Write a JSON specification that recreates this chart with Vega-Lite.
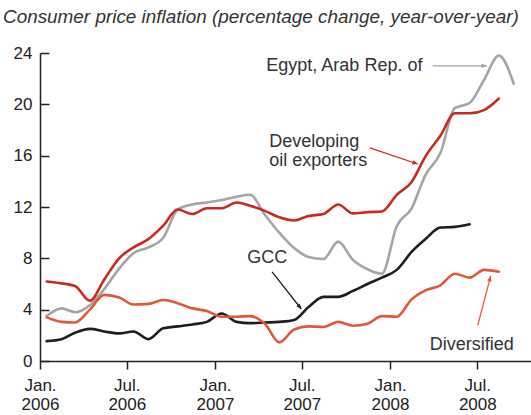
{
  "$schema": "https://vega.github.io/schema/vega-lite/v6.json",
  "width": 491,
  "height": 308,
  "autosize": {"type": "none"},
  "padding": {"left": 40, "top": 53, "right": 0, "bottom": 54},
  "background": "white",
  "config": {"view": {"stroke": null}, "font": "Liberation Sans"},
  "title": {
    "text": "Consumer price inflation (percentage change, year-over-year)",
    "anchor": "start",
    "frame": "group",
    "font": "Liberation Sans",
    "fontStyle": "italic",
    "fontWeight": "normal",
    "fontSize": 18.9,
    "color": "#333333",
    "dx": -37,
    "offset": 2,
    "baseline": "alphabetic"
  },
  "datasets": {
    "series": [
      {"date": "2006-01-15", "series": "Egypt", "value": 3.5},
      {"date": "2006-02-15", "series": "Egypt", "value": 4.1},
      {"date": "2006-03-15", "series": "Egypt", "value": 3.8},
      {"date": "2006-04-15", "series": "Egypt", "value": 4.35},
      {"date": "2006-05-15", "series": "Egypt", "value": 5.6},
      {"date": "2006-06-15", "series": "Egypt", "value": 7.2},
      {"date": "2006-07-15", "series": "Egypt", "value": 8.4},
      {"date": "2006-08-15", "series": "Egypt", "value": 8.85},
      {"date": "2006-09-15", "series": "Egypt", "value": 9.6},
      {"date": "2006-10-15", "series": "Egypt", "value": 11.8},
      {"date": "2006-11-15", "series": "Egypt", "value": 12.2},
      {"date": "2006-12-15", "series": "Egypt", "value": 12.35},
      {"date": "2007-01-15", "series": "Egypt", "value": 12.55},
      {"date": "2007-02-15", "series": "Egypt", "value": 12.8},
      {"date": "2007-03-15", "series": "Egypt", "value": 12.95},
      {"date": "2007-04-15", "series": "Egypt", "value": 11.4},
      {"date": "2007-05-15", "series": "Egypt", "value": 10.0},
      {"date": "2007-06-15", "series": "Egypt", "value": 8.8},
      {"date": "2007-07-15", "series": "Egypt", "value": 8.1},
      {"date": "2007-08-15", "series": "Egypt", "value": 7.95},
      {"date": "2007-09-15", "series": "Egypt", "value": 9.3},
      {"date": "2007-10-15", "series": "Egypt", "value": 7.9},
      {"date": "2007-11-15", "series": "Egypt", "value": 7.15},
      {"date": "2007-12-15", "series": "Egypt", "value": 6.8},
      {"date": "2008-01-15", "series": "Egypt", "value": 10.5},
      {"date": "2008-02-15", "series": "Egypt", "value": 11.9},
      {"date": "2008-03-15", "series": "Egypt", "value": 14.5},
      {"date": "2008-04-15", "series": "Egypt", "value": 16.2},
      {"date": "2008-05-15", "series": "Egypt", "value": 19.7},
      {"date": "2008-06-15", "series": "Egypt", "value": 20.1},
      {"date": "2008-07-15", "series": "Egypt", "value": 21.9},
      {"date": "2008-08-15", "series": "Egypt", "value": 23.8},
      {"date": "2008-09-15", "series": "Egypt", "value": 21.6},

      {"date": "2006-01-15", "series": "Developing", "value": 6.2},
      {"date": "2006-02-15", "series": "Developing", "value": 6.05},
      {"date": "2006-03-15", "series": "Developing", "value": 5.85},
      {"date": "2006-04-15", "series": "Developing", "value": 4.7},
      {"date": "2006-05-15", "series": "Developing", "value": 6.35},
      {"date": "2006-06-15", "series": "Developing", "value": 8.0},
      {"date": "2006-07-15", "series": "Developing", "value": 8.85},
      {"date": "2006-08-15", "series": "Developing", "value": 9.5},
      {"date": "2006-09-15", "series": "Developing", "value": 10.55},
      {"date": "2006-10-15", "series": "Developing", "value": 11.8},
      {"date": "2006-11-15", "series": "Developing", "value": 11.45},
      {"date": "2006-12-15", "series": "Developing", "value": 11.9},
      {"date": "2007-01-15", "series": "Developing", "value": 11.9},
      {"date": "2007-02-15", "series": "Developing", "value": 12.35},
      {"date": "2007-03-15", "series": "Developing", "value": 12.1},
      {"date": "2007-04-15", "series": "Developing", "value": 11.7},
      {"date": "2007-05-15", "series": "Developing", "value": 11.2},
      {"date": "2007-06-15", "series": "Developing", "value": 10.95},
      {"date": "2007-07-15", "series": "Developing", "value": 11.3},
      {"date": "2007-08-15", "series": "Developing", "value": 11.45},
      {"date": "2007-09-15", "series": "Developing", "value": 12.2},
      {"date": "2007-10-15", "series": "Developing", "value": 11.5},
      {"date": "2007-11-15", "series": "Developing", "value": 11.6},
      {"date": "2007-12-15", "series": "Developing", "value": 11.65},
      {"date": "2008-01-15", "series": "Developing", "value": 12.95},
      {"date": "2008-02-15", "series": "Developing", "value": 13.95},
      {"date": "2008-03-15", "series": "Developing", "value": 15.95},
      {"date": "2008-04-15", "series": "Developing", "value": 17.55},
      {"date": "2008-05-15", "series": "Developing", "value": 19.3},
      {"date": "2008-06-15", "series": "Developing", "value": 19.3},
      {"date": "2008-07-15", "series": "Developing", "value": 19.55},
      {"date": "2008-08-15", "series": "Developing", "value": 20.45},

      {"date": "2006-01-15", "series": "GCC", "value": 1.55},
      {"date": "2006-02-15", "series": "GCC", "value": 1.7},
      {"date": "2006-03-15", "series": "GCC", "value": 2.2},
      {"date": "2006-04-15", "series": "GCC", "value": 2.5},
      {"date": "2006-05-15", "series": "GCC", "value": 2.3},
      {"date": "2006-06-15", "series": "GCC", "value": 2.15},
      {"date": "2006-07-15", "series": "GCC", "value": 2.3},
      {"date": "2006-08-15", "series": "GCC", "value": 1.7},
      {"date": "2006-09-15", "series": "GCC", "value": 2.55},
      {"date": "2006-10-15", "series": "GCC", "value": 2.7},
      {"date": "2006-11-15", "series": "GCC", "value": 2.85},
      {"date": "2006-12-15", "series": "GCC", "value": 3.05},
      {"date": "2007-01-15", "series": "GCC", "value": 3.7},
      {"date": "2007-02-15", "series": "GCC", "value": 3.05},
      {"date": "2007-03-15", "series": "GCC", "value": 2.95},
      {"date": "2007-04-15", "series": "GCC", "value": 3.0},
      {"date": "2007-05-15", "series": "GCC", "value": 3.05},
      {"date": "2007-06-15", "series": "GCC", "value": 3.2},
      {"date": "2007-07-15", "series": "GCC", "value": 4.2},
      {"date": "2007-08-15", "series": "GCC", "value": 5.0},
      {"date": "2007-09-15", "series": "GCC", "value": 5.0},
      {"date": "2007-10-15", "series": "GCC", "value": 5.45},
      {"date": "2007-11-15", "series": "GCC", "value": 6.0},
      {"date": "2007-12-15", "series": "GCC", "value": 6.5},
      {"date": "2008-01-15", "series": "GCC", "value": 7.1},
      {"date": "2008-02-15", "series": "GCC", "value": 8.5},
      {"date": "2008-03-15", "series": "GCC", "value": 9.5},
      {"date": "2008-04-15", "series": "GCC", "value": 10.4},
      {"date": "2008-05-15", "series": "GCC", "value": 10.45},
      {"date": "2008-06-15", "series": "GCC", "value": 10.65},

      {"date": "2006-01-15", "series": "Diversified", "value": 3.4},
      {"date": "2006-02-15", "series": "Diversified", "value": 3.05},
      {"date": "2006-03-15", "series": "Diversified", "value": 3.0},
      {"date": "2006-04-15", "series": "Diversified", "value": 4.0},
      {"date": "2006-05-15", "series": "Diversified", "value": 5.15},
      {"date": "2006-06-15", "series": "Diversified", "value": 4.95},
      {"date": "2006-07-15", "series": "Diversified", "value": 4.4},
      {"date": "2006-08-15", "series": "Diversified", "value": 4.45},
      {"date": "2006-09-15", "series": "Diversified", "value": 4.75},
      {"date": "2006-10-15", "series": "Diversified", "value": 4.5},
      {"date": "2006-11-15", "series": "Diversified", "value": 4.1},
      {"date": "2006-12-15", "series": "Diversified", "value": 3.9},
      {"date": "2007-01-15", "series": "Diversified", "value": 3.45},
      {"date": "2007-02-15", "series": "Diversified", "value": 3.45},
      {"date": "2007-03-15", "series": "Diversified", "value": 3.5},
      {"date": "2007-04-15", "series": "Diversified", "value": 2.9},
      {"date": "2007-05-15", "series": "Diversified", "value": 1.45},
      {"date": "2007-06-15", "series": "Diversified", "value": 2.45},
      {"date": "2007-07-15", "series": "Diversified", "value": 2.7},
      {"date": "2007-08-15", "series": "Diversified", "value": 2.65},
      {"date": "2007-09-15", "series": "Diversified", "value": 3.05},
      {"date": "2007-10-15", "series": "Diversified", "value": 2.75},
      {"date": "2007-11-15", "series": "Diversified", "value": 2.9},
      {"date": "2007-12-15", "series": "Diversified", "value": 3.5},
      {"date": "2008-01-15", "series": "Diversified", "value": 3.45},
      {"date": "2008-02-15", "series": "Diversified", "value": 4.8},
      {"date": "2008-03-15", "series": "Diversified", "value": 5.5},
      {"date": "2008-04-15", "series": "Diversified", "value": 5.9},
      {"date": "2008-05-15", "series": "Diversified", "value": 6.8},
      {"date": "2008-06-15", "series": "Diversified", "value": 6.5},
      {"date": "2008-07-15", "series": "Diversified", "value": 7.1},
      {"date": "2008-08-15", "series": "Diversified", "value": 6.95}
    ],
    "labels": [
      {"date": "2007-04-18", "value": 22.56, "label": "Egypt, Arab Rep. of"},
      {"date": "2007-04-24", "value": 16.66, "label": "Developing"},
      {"date": "2007-04-24", "value": 15.2, "label": "oil exporters"},
      {"date": "2007-03-09", "value": 7.64, "label": "GCC"},
      {"date": "2008-03-24", "value": 0.86, "label": "Diversified"}
    ],
    "arrows": [
      {"series": "Egypt", "date": "2008-03-30", "value": 23.0, "date2": "2008-07-21", "value2": 23.0, "angle": 90},
      {"series": "Developing", "date": "2007-11-20", "value": 16.6, "date2": "2008-02-28", "value2": 15.35, "angle": 108},
      {"series": "GCC", "date": "2007-04-30", "value": 6.94, "date2": "2007-06-30", "value2": 4.05, "angle": 142},
      {"series": "Diversified", "date": "2008-07-02", "value": 2.8, "date2": "2008-07-29", "value2": 6.63, "angle": 15}
    ]
  },
  "encoding": {
    "x": {
      "field": "date",
      "type": "temporal",
      "scale": {
        "type": "utc",
        "domain": [
          {"year": 2006, "month": 1, "date": 1, "utc": true},
          {"year": 2008, "month": 10, "date": 21, "utc": true}
        ]
      },
      "axis": {
        "title": null,
        "grid": false,
        "values": [
          {"year": 2006, "month": 1, "date": 1, "utc": true},
          {"year": 2006, "month": 7, "date": 1, "utc": true},
          {"year": 2007, "month": 1, "date": 1, "utc": true},
          {"year": 2007, "month": 7, "date": 1, "utc": true},
          {"year": 2008, "month": 1, "date": 1, "utc": true},
          {"year": 2008, "month": 7, "date": 1, "utc": true}
        ],
        "labelExpr": "[utcFormat(datum.value, '%b') + '.', utcFormat(datum.value, '%Y')]",
        "labelFlush": false,
        "labelOverlap": false,
        "tickSize": 8,
        "tickWidth": 1.5,
        "tickColor": "#222222",
        "domainColor": "#222222",
        "domainWidth": 1.5,
        "labelFont": "Liberation Sans",
        "labelFontSize": 17,
        "labelColor": "#222222",
        "labelPadding": 8,
        "labelLineHeight": 19
      }
    },
    "y": {
      "field": "value",
      "type": "quantitative",
      "scale": {"domain": [0, 24], "nice": false, "zero": false},
      "axis": {
        "title": null,
        "grid": false,
        "values": [0, 4, 8, 12, 16, 20, 24],
        "tickSize": -9,
        "tickWidth": 1.5,
        "tickColor": "#222222",
        "domainColor": "#222222",
        "domainWidth": 1.5,
        "labelFont": "Liberation Sans",
        "labelFontSize": 17,
        "labelColor": "#222222",
        "labelPadding": 17,
        "labelFlush": false,
        "labelOverlap": false
      }
    }
  },
  "layer": [
    {
      "data": {"name": "series"},
      "mark": {"type": "line", "interpolate": "monotone", "strokeWidth": 2.6, "strokeCap": "round", "strokeJoin": "round"},
      "encoding": {
        "color": {
          "field": "series",
          "type": "nominal",
          "scale": {
            "domain": ["Egypt", "Developing", "GCC", "Diversified"],
            "range": ["#a5a5a5", "#c92a1f", "#1e1e1e", "#e0583a"]
          },
          "legend": null
        },
        "detail": {"field": "series"}
      }
    },
    {
      "data": {"name": "arrows"},
      "mark": {"type": "rule", "strokeWidth": 1.3},
      "encoding": {
        "x2": {"field": "date2"},
        "y2": {"field": "value2"},
        "color": {"field": "series", "type": "nominal", "legend": null}
      }
    },
    {
      "data": {"name": "arrows"},
      "mark": {"type": "point", "shape": "M 0 0 L -0.75 1.8 L 0.75 1.8 Z", "filled": true, "size": 36, "opacity": 1},
      "encoding": {
        "x": {"field": "date2", "type": "temporal"},
        "y": {"field": "value2", "type": "quantitative"},
        "angle": {"field": "angle", "type": "quantitative", "scale": null},
        "color": {"field": "series", "type": "nominal", "legend": null}
      }
    },
    {
      "data": {"name": "labels"},
      "mark": {"type": "text", "align": "left", "baseline": "alphabetic", "font": "Liberation Sans", "fontSize": 18, "color": "#333333"},
      "encoding": {
        "text": {"field": "label"}
      }
    }
  ]
}
